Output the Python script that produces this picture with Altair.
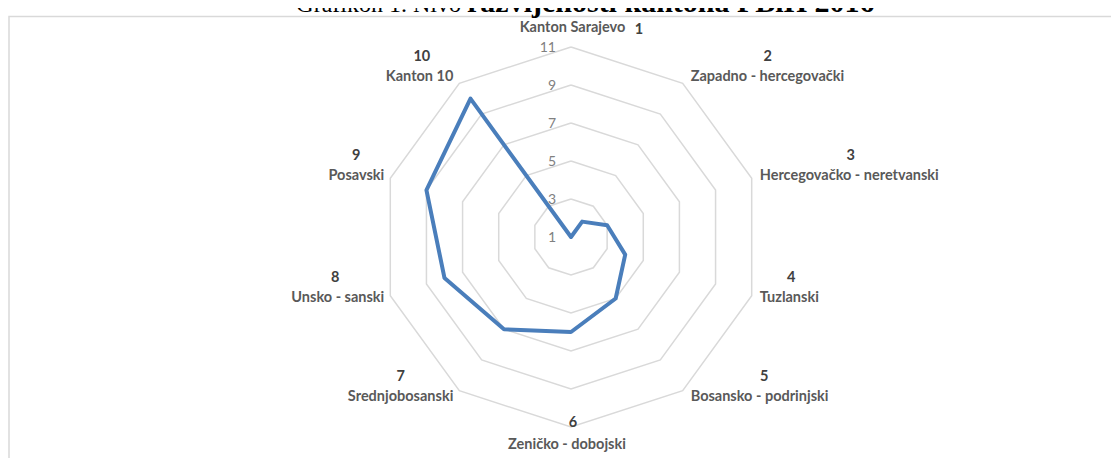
import altair as alt
import pandas as pd

# ---- data ----
categories = [
    "Kanton Sarajevo", "Zapadno - hercegovački", "Hercegovačko - neretvanski",
    "Tuzlanski", "Bosansko - podrinjski", "Zeničko - dobojski",
    "Srednjobosanski", "Unsko - sanski", "Posavski", "Kanton 10",
]
category_numbers = ["1", "2", "3", "4", "5", "6", "7", "8", "9", "10"]
rank_values = [1, 2, 3, 4, 5, 6, 7, 8, 9, 10]
ring_levels = [3, 5, 7, 9, 11]
tick_labels = [1, 3, 5, 7, 9, 11]
title_plain = "Grafikon 1. Nivo"
title_bold = "razvijenosti kantona FBiH 2016"

# ---- layout ----
AXIS_MIN = 1
N = len(categories)
W, H = 1103, 450
CX, CY = 563, 229          # radar centre inside the svg
PX = 19.0                  # pixels per value unit
R_OUT = max(ring_levels) - AXIS_MIN

FONT = "Lato"
BLUE = "#4a7ebb"
GRID = "#d9d9d9"

x_scale = alt.Scale(domain=[-CX / PX, (W - CX) / PX], nice=False, zero=False)
y_scale = alt.Scale(domain=[-(H - CY) / PX, CY / PX], nice=False, zero=False)
X = alt.X("px:Q", scale=x_scale, axis=None)
Y = alt.Y("py:Q", scale=y_scale, axis=None)


def polar(ch, rexpr):
    return (
        ch.transform_calculate(theta=f"datum.idx*2*PI/{N}")
        .transform_calculate(r=rexpr)
        .transform_calculate(px="datum.r*sin(datum.theta)", py="datum.r*cos(datum.theta)")
    )


line_df = pd.DataFrame({"idx": list(range(N + 1)), "value": rank_values + rank_values[:1]})
ring_df = pd.DataFrame([{"level": lv, "idx": i} for lv in ring_levels for i in range(N + 1)])
label_df = pd.DataFrame({"idx": list(range(N)), "name": categories, "num": category_numbers})
tick_df = pd.DataFrame({"tick": tick_labels})
one = pd.DataFrame({"a": [0]})

rings = polar(alt.Chart(ring_df), f"datum.level-{AXIS_MIN}").mark_line(
    color=GRID, strokeWidth=1.5
).encode(x=X, y=Y, detail="level:N", order="idx:Q")

series = polar(alt.Chart(line_df), f"datum.value-{AXIS_MIN}").mark_line(
    color=BLUE, strokeWidth=4, strokeJoin="round", strokeCap="round"
).encode(x=X, y=Y, order="idx:Q")

ticks = alt.Chart(tick_df).transform_calculate(
    px="0", py=f"datum.tick-{AXIS_MIN}"
).mark_text(
    align="right", baseline="middle", dx=-15, dy=1, font=FONT, fontSize=14, color="#808080"
).encode(x=X, y=Y, text="tick:N")

labels_base = (
    alt.Chart(label_df)
    .transform_calculate(theta=f"datum.idx*2*PI/{N}")
    .transform_calculate(s="sin(datum.theta)", c="cos(datum.theta)")
    .transform_calculate(vx=f"{R_OUT}*datum.s", vy=f"{R_OUT}*datum.c",
                         side="datum.s > 0.01 ? 1 : (datum.s < -0.01 ? -1 : 0)")
    .transform_calculate(gap="datum.side > 0 ? 8 : 6", halfw="length(datum.name)*3.5")
    .transform_calculate(
        nx=f"datum.side == 0 ? datum.vx + (datum.c > 0 ? 1.5 : -4)/{PX} : datum.vx + datum.side*datum.gap/{PX}",
        ny=f"datum.side == 0 ? datum.vy + (datum.c > 0 ? 19 : -18)/{PX} : datum.vy + 8*datum.c/{PX}",
    )
    .transform_calculate(
        numx=f"datum.side != 0 ? datum.vx + datum.side*(datum.gap + datum.halfw)/{PX} : "
             f"(datum.c > 0 ? datum.vx + (1.5 + datum.halfw + 14)/{PX} : datum.vx + 2/{PX})",
        numy=f"datum.side != 0 ? datum.ny + 20/{PX} : "
             f"(datum.c > 0 ? datum.ny - 1.5/{PX} : datum.vy + 4/{PX})",
    )
)

name_style = dict(baseline="middle", font=FONT, fontSize=14.5, fontWeight="bold", color="#595959")
NX = alt.X("nx:Q", scale=x_scale, axis=None)
NY = alt.Y("ny:Q", scale=y_scale, axis=None)
names_right = labels_base.transform_filter("datum.side > 0").mark_text(align="left", **name_style).encode(x=NX, y=NY, text="name:N")
names_left = labels_base.transform_filter("datum.side < 0").mark_text(align="right", **name_style).encode(x=NX, y=NY, text="name:N")
names_mid = labels_base.transform_filter("datum.side == 0").mark_text(align="center", **name_style).encode(x=NX, y=NY, text="name:N")

numbers = labels_base.mark_text(
    align="center", baseline="middle", font=FONT, fontSize=14.5, fontWeight="bold", color="#404040"
).encode(
    x=alt.X("numx:Q", scale=x_scale, axis=None),
    y=alt.Y("numy:Q", scale=y_scale, axis=None),
    text="num:N",
)

border = alt.Chart(one).mark_rect(
    fill="transparent", stroke=GRID, strokeWidth=1.5
).encode(x=alt.value(1), x2=alt.value(W + 40), y=alt.value(8.5), y2=alt.value(H + 40))

title_a = alt.Chart(one).mark_text(
    align="right", baseline="alphabetic", font="Liberation Serif", fontSize=24, color="#000000"
).encode(x=alt.value(453), y=alt.value(4), text=alt.value(title_plain))
title_b = alt.Chart(one).mark_text(
    align="left", baseline="alphabetic", font="Liberation Serif", fontSize=30, fontWeight="bold", color="#000000"
).encode(x=alt.value(459), y=alt.value(4), text=alt.value(title_bold))

chart = alt.layer(
    border, title_a, title_b, rings, ticks, series, names_right, names_left, names_mid, numbers
).properties(
    width=W, height=H, padding=0, autosize=alt.AutoSizeParams(type="none"), background="white"
).configure_view(strokeWidth=0)

chart.save("out.html", embed_options={"renderer": "svg", "actions": False})
